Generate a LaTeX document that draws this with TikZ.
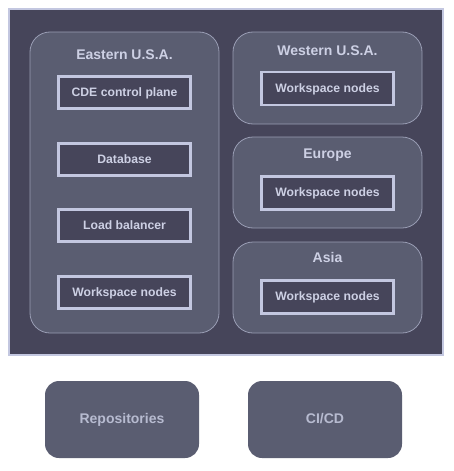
\documentclass[tikz,border=0pt]{standalone}
\usepackage{fontspec}
\setmainfont{Liberation Sans}
\definecolor{backdark}{HTML}{46455A}
\definecolor{regionfill}{HTML}{5A5D71}
\definecolor{edgelight}{HTML}{C3C7E0}
\definecolor{textlight}{HTML}{CDD0E4}
\definecolor{textdim}{HTML}{B7BBD0}
\tikzset{
  region/.style={draw=edgelight!60!regionfill, line width=0.8pt, fill=regionfill,
    rounded corners=20pt, inner sep=0pt},
  regiontitle/.style={text=textlight, text height=0.72em, text depth=0pt,
    font=\bfseries\fontsize{14}{16}\selectfont},
  service/.style={draw=edgelight, line width=2.6pt, fill=backdark, text=textlight,
    minimum width=132pt, inner sep=0pt, text height=0.72em, text depth=0pt,
    font=\bfseries\fontsize{12.2}{14}\selectfont},
  outside/.style={fill=regionfill, rounded corners=14pt, minimum width=154pt,
    minimum height=77pt, text=textdim, text height=0.72em, text depth=0pt,
    font=\bfseries\fontsize{14}{16}\selectfont},
}
\begin{document}
\begin{tikzpicture}[x=1pt, y=-1pt]
			\useasboundingbox (0,0) rectangle (454,471);
			
			%%%%% CLOUD %%%%%
			\draw[draw=edgelight, line width=2pt, fill=backdark] (9, 9) rectangle (443, 355);
			
			\node[region, minimum width=189pt, minimum height=301pt] (east) at (124.5, 182.5) {};
			\node[region, minimum width=189pt, minimum height=92pt] (west) at (327.5, 78) {};
			\node[region, minimum width=189pt, minimum height=91pt] (europe) at (327.5, 182.5) {};
			\node[region, minimum width=189pt, minimum height=91pt] (asia) at (327.5, 287.5) {};
			
			\node[regiontitle] (easttitle) at (124.5, 56) {Eastern U.S.A.};
			\node[regiontitle] (westtitle) at (327.5, 51.5) {Western U.S.A.};
			\node[regiontitle] (europetitle) at (327.5, 154.5) {Europe};
			\node[regiontitle] (asiatitle) at (327.5, 259) {Asia};
			
			\node[service, minimum height=32pt] (control) at (124.5, 92.5) {CDE control plane};
			\node[service, minimum height=32pt] (database) at (124.5, 159.5) {Database};
			\node[service, minimum height=32pt] (balancer) at (124.5, 225.5) {Load balancer};
			\node[service, minimum height=32pt] (eastnodes) at (124.5, 292.5) {Workspace nodes};
			
			\node[service, minimum height=33pt] (westnodes) at (327.5, 88.5) {Workspace nodes};
			\node[service, minimum height=33pt] (europenodes) at (327.5, 193) {Workspace nodes};
			\node[service, minimum height=33pt] (asianodes) at (327.5, 297) {Workspace nodes};
			
			%%%%% OUTSIDE %%%%%
			\node[outside] (repos) at (122, 419.5) {Repositories};
			\node[outside] (cicd) at (325, 419.5) {CI/CD};
			
		\end{tikzpicture}
\end{document}
